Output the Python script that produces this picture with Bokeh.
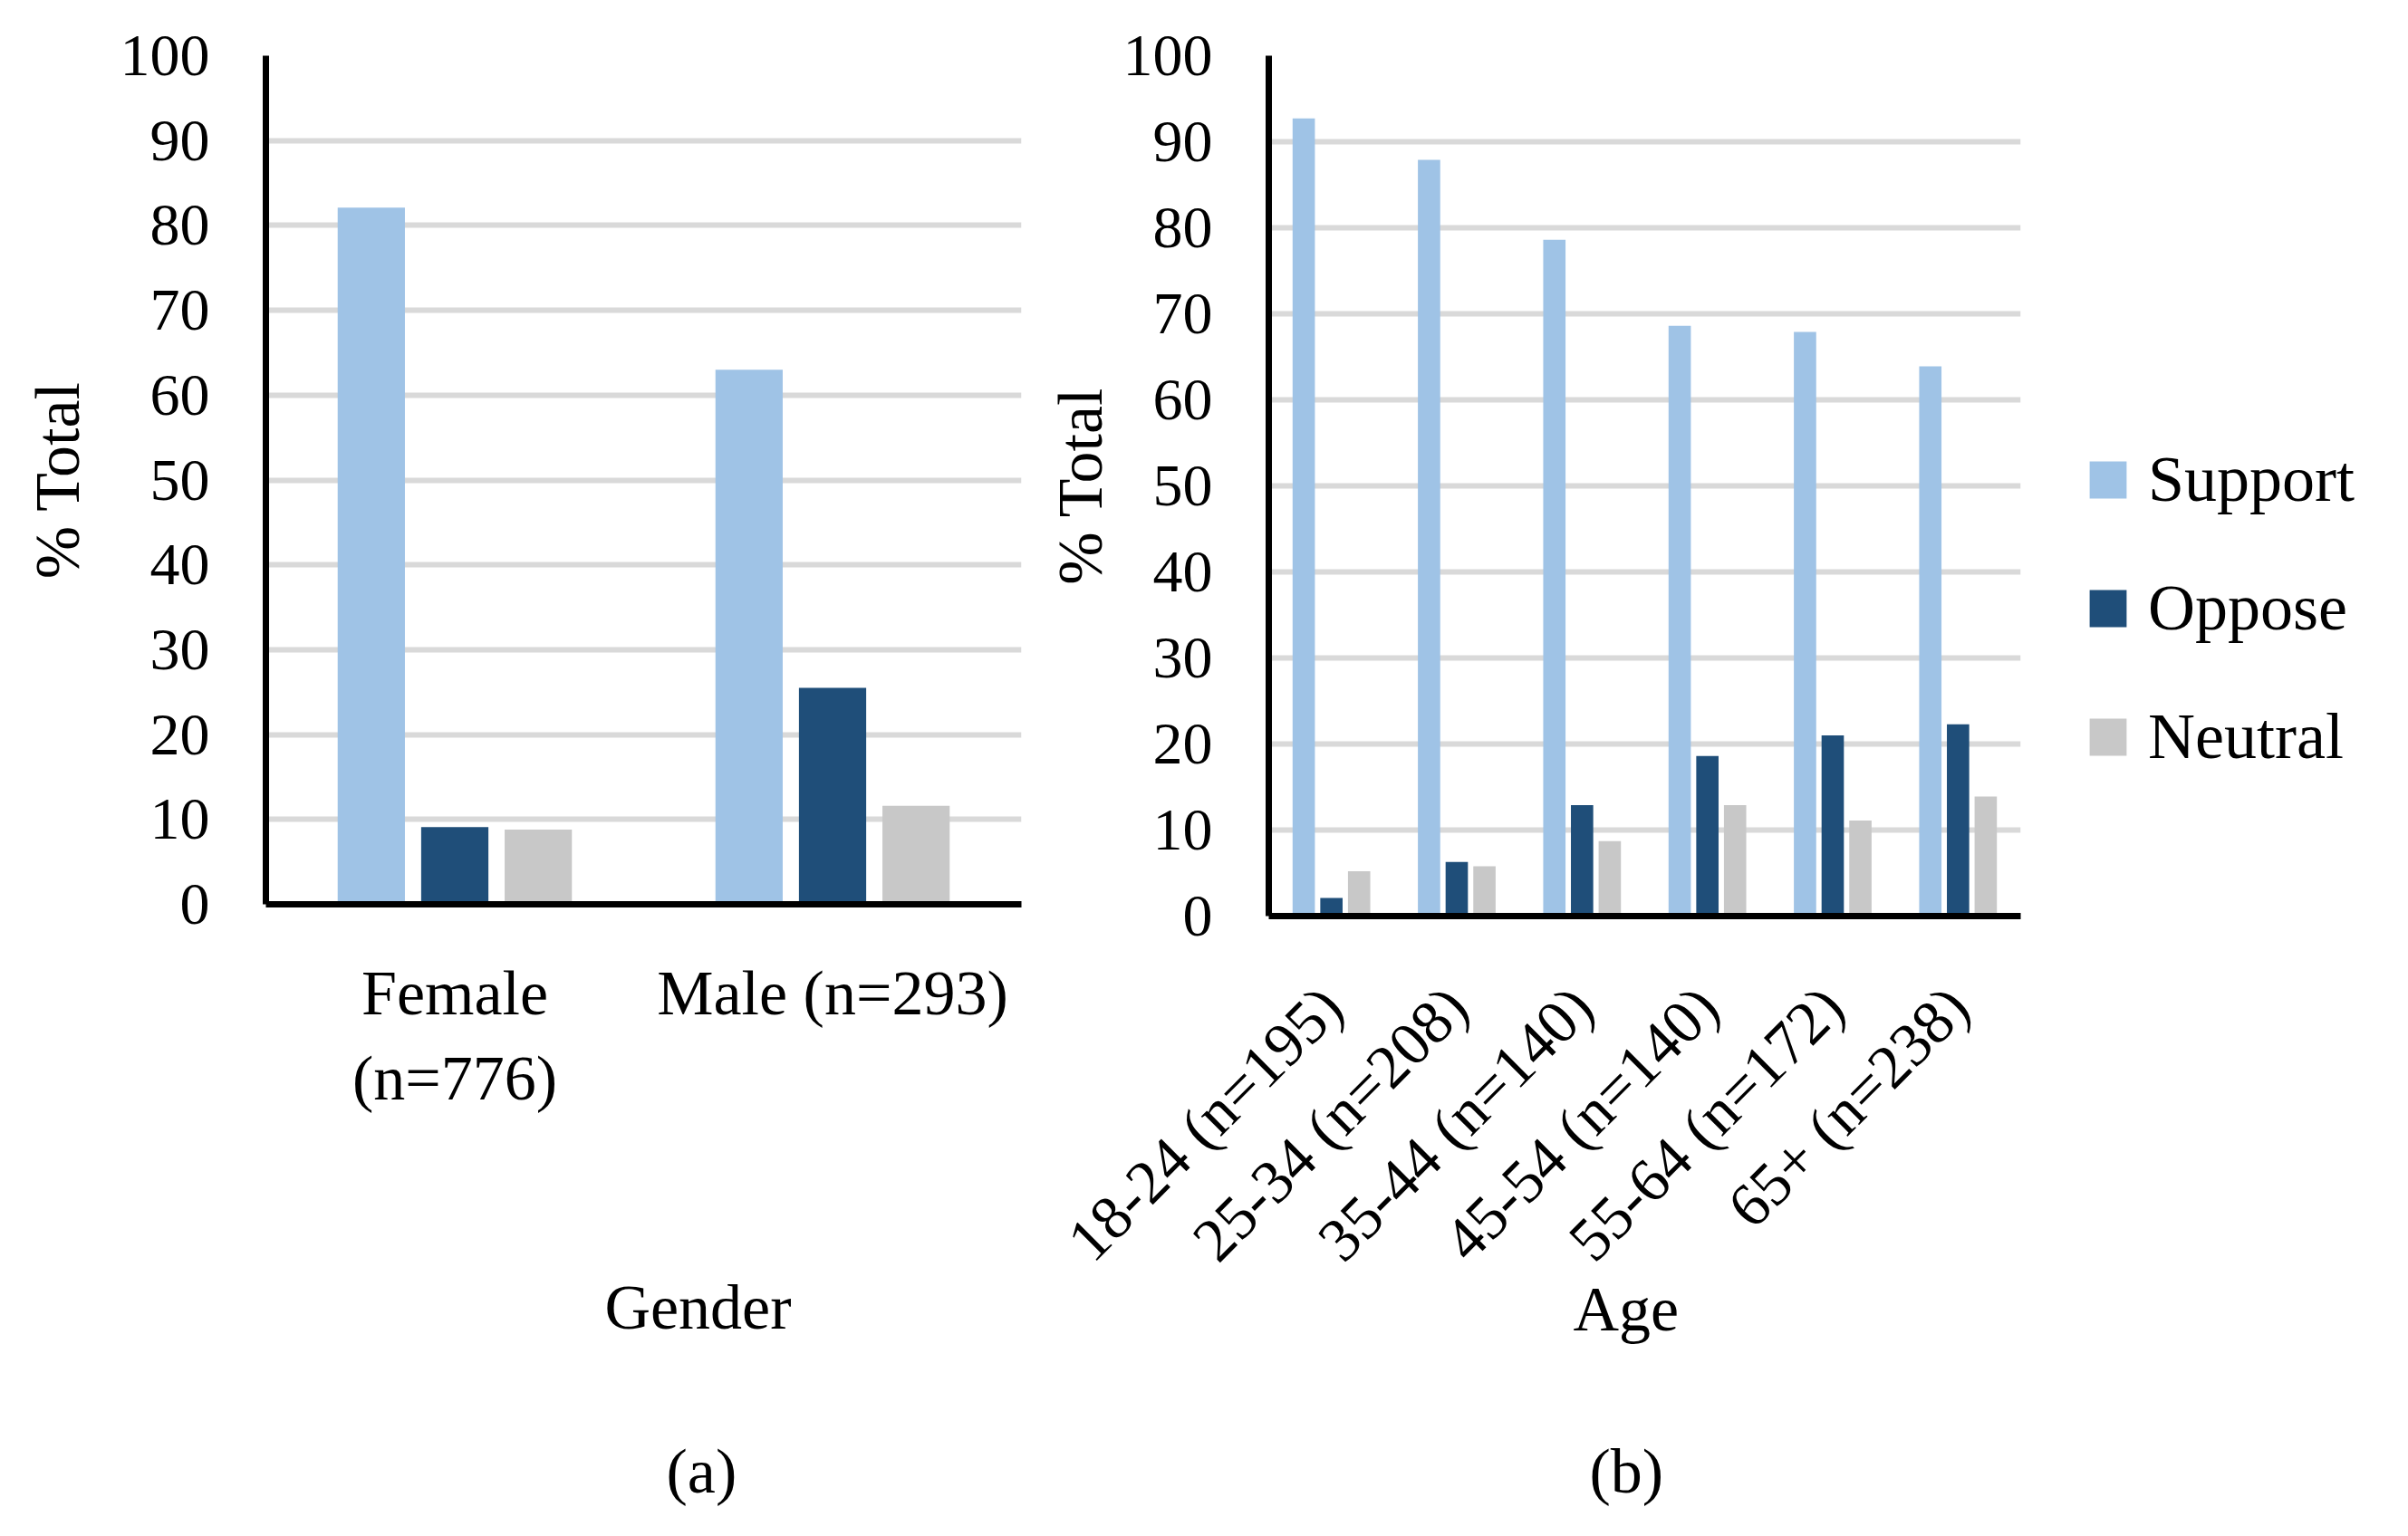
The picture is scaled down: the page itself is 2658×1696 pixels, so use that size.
import math
from bokeh.plotting import figure
from bokeh.models import (FactorRange, Range1d, FixedTicker, Legend, LegendItem,
                          Title, ColumnDataSource)
from bokeh.transform import dodge
from bokeh.layouts import row
from bokeh.embed import file_html
from bokeh.resources import INLINE

# ---------------- data ----------------
series_names = ["Support", "Oppose", "Neutral"]
series_colors = ["#9fc3e6", "#1f4e79", "#c8c8c8"]

gender_cats = ["Female\n(n=776)", "Male (n=293)"]
gender_support = [82.1, 63.0]
gender_oppose = [9.1, 25.5]
gender_neutral = [8.8, 11.6]

age_cats = ["18-24 (n=195)", "25-34 (n=208)", "35-44 (n=140)",
            "45-54 (n=140)", "55-64 (n=172)", "65+ (n=238)"]
age_support = [92.7, 87.9, 78.6, 68.6, 67.9, 63.9]
age_oppose = [2.1, 6.3, 12.9, 18.6, 21.0, 22.3]
age_neutral = [5.2, 5.8, 8.7, 12.9, 11.1, 13.9]

y_ticks = list(range(0, 101, 10))

FONT = "Liberation Serif"
FS_TICK = "66px"
FS = "70px"
FS_ROT = "68px"
FS_LEG = "72px"
BAR_W = 0.178
STEP = 0.221


def style(p, xstand, ylab_stand):
    p.outline_line_color = None
    p.background_fill_color = "white"
    p.border_fill_color = "white"
    p.xgrid.grid_line_color = None
    p.ygrid.grid_line_color = "#d9d9d9"
    p.ygrid.grid_line_width = 6
    for ax in (p.xaxis[0], p.yaxis[0]):
        ax.axis_line_color = "black"
        ax.axis_line_width = 7
        ax.major_tick_line_color = None
        ax.minor_tick_line_color = None
        ax.major_tick_out = 0
        ax.major_tick_in = 0
        ax.minor_tick_out = 0
        ax.minor_tick_in = 0
        ax.major_label_text_font = FONT
        ax.major_label_text_font_size = FS
        ax.major_label_text_color = "black"
        ax.axis_label_text_font = FONT
        ax.axis_label_text_font_size = FS
        ax.axis_label_text_font_style = "normal"
        ax.axis_label_text_color = "black"
    p.yaxis.major_label_text_font_size = FS_TICK
    p.yaxis.ticker = FixedTicker(ticks=y_ticks)
    p.yaxis.major_label_standoff = 62
    p.yaxis.axis_label = "% Total"
    p.yaxis.axis_label_standoff = ylab_stand
    p.xaxis.major_label_standoff = xstand


def add_bars(p, cats, s, o, n):
    src = ColumnDataSource(dict(cat=cats, Support=s, Oppose=o, Neutral=n))
    rs = []
    for i, (name, col) in enumerate(zip(series_names, series_colors)):
        r = p.vbar(x=dodge("cat", (i - 1) * STEP, range=p.x_range), top=name,
                   width=BAR_W, source=src, fill_color=col, line_color=None)
        rs.append(r)
    return rs


def caption(text, offset, standoff, size=FS):
    return Title(text=text, align="left", offset=offset, standoff=standoff,
                 text_font=FONT, text_font_size=size, text_font_style="normal",
                 text_color="black")


# ---------------- left: gender ----------------
p1 = figure(x_range=FactorRange(*gender_cats), y_range=Range1d(0, 100),
            frame_width=834, frame_height=937,
            min_border_left=293, min_border_right=15,
            min_border_top=57, min_border_bottom=686,
            output_backend="svg", toolbar_location=None)
add_bars(p1, gender_cats, gender_support, gender_oppose, gender_neutral)
style(p1, 59, 28)
p1.xaxis.major_label_text_line_height = 1.23
p1.add_layout(caption("\u00a0", 0, 117, "1px"), "below")   # spacer
p1.add_layout(caption("Gender", 374, 100), "below")
p1.add_layout(caption("(a)", 442, 104), "below")

# ---------------- right: age ----------------
p2 = figure(x_range=FactorRange(*age_cats), y_range=Range1d(0, 100),
            frame_width=830, frame_height=950,
            min_border_left=258, min_border_right=412,
            min_border_top=61, min_border_bottom=669,
            output_backend="svg", toolbar_location=None)
rs = add_bars(p2, age_cats, age_support, age_oppose, age_neutral)
style(p2, 89, 6)
p2.xaxis.major_label_orientation = math.pi / 4
p2.xaxis.major_label_text_font_size = FS_ROT
p2.add_layout(caption("Age", 336, -63), "below")
p2.add_layout(caption("(b)", 354, 262), "below")

legend = Legend(items=[LegendItem(label=nm, renderers=[r]) for nm, r in zip(series_names, rs)],
                location=(71, 156), orientation="vertical",
                glyph_width=51, glyph_height=51, label_standoff=19,
                spacing=59, padding=0, margin=0,
                label_text_font=FONT, label_text_font_size=FS_LEG, label_text_color="black",
                border_line_color=None, background_fill_alpha=0)
p2.add_layout(legend, "right")

layout = row(p1, p2)
open("out.html", "w").write(file_html(layout, INLINE))
